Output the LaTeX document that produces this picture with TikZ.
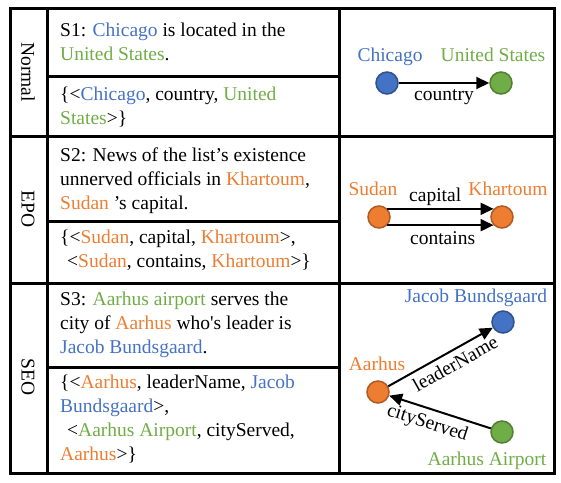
\documentclass[tikz,border=0pt]{standalone}
\usepackage{fontspec}
\setmainfont{Liberation Serif}
\usetikzlibrary{arrows.meta}
\definecolor{cblue}{HTML}{4472C4}
\definecolor{cgreen}{HTML}{70AD47}
\definecolor{corange}{HTML}{ED7D31}
\definecolor{dblue}{HTML}{2F528F}
\definecolor{dgreen}{HTML}{507E32}
\definecolor{dorange}{HTML}{AE5A21}
\newcommand{\cB}[1]{\textcolor{cblue}{#1}}
\newcommand{\cG}[1]{\textcolor{cgreen}{#1}}
\newcommand{\cO}[1]{\textcolor{corange}{#1}}
\begin{document}
\begin{tikzpicture}[x=1pt,y=-1pt,
  every node/.style={font=\fontsize{19.5}{24}\selectfont},
  grid/.style={line width=3pt, line cap=rect},
  celltext/.style={anchor=north west, inner sep=0pt, align=left},
  rowlabel/.style={rotate=-90, inner sep=0pt},
  ent/.style={circle, minimum size=22pt, inner sep=0pt, line width=1.5pt},
  entB/.style={ent, fill=cblue, draw=dblue},
  entG/.style={ent, fill=cgreen, draw=dgreen},
  entO/.style={ent, fill=corange, draw=dorange},
  elabel/.style={anchor=base, inner sep=0pt},
  rel/.style={line width=2pt, -{Triangle[length=13pt,width=12pt]}},
  rellabel/.style={inner sep=3pt}
]
\useasboundingbox (0,0) rectangle (561,482);
% table
\draw[grid] (10,8) rectangle (554,473);
\draw[grid] (47,8) -- (47,473);
\draw[grid] (339,8) -- (339,473);
\draw[grid] (10,136) -- (554,136);
\draw[grid] (10,283) -- (554,283);
\draw[grid] (47,76) -- (339,76);
\draw[grid] (47,221) -- (339,221);
\draw[grid] (47,367) -- (339,367);
% row labels
\node[rowlabel] (lnormal) at (28,72) {Normal};
\node[rowlabel] (lepo) at (28,209) {EPO};
\node[rowlabel] (lseo) at (28,377) {SEO};
% sentences
\node[celltext] (s1) at (60,22.5) {S1: \cB{Chicago} is located in the\\\cG{United States}.};
\node[celltext] (t1) at (60,87) {\{<\cB{Chicago}, country, \cG{United}\\\cG{States}>\}};
\node[celltext] (s2) at (60,147.5) {S2: News of the list’s existence\\unnerved officials in \cO{Khartoum},\\\cO{Sudan} ’s capital.};
\node[celltext] (t2) at (60,230) {\{<\cO{Sudan}, capital, \cO{Khartoum}>,\\\hspace{7pt}<\cO{Sudan}, contains, \cO{Khartoum}>\}};
\node[celltext] (s3) at (60,291.5) {S3: \cG{Aarhus airport} serves the\\city of \cO{Aarhus} who\textquotesingle s leader is\\\cB{Jacob Bundsgaard}.};
\node[celltext] (t3) at (60,375) {\{<\cO{Aarhus}, leaderName, \cB{Jacob}\\\cB{Bundsgaard}>,\\\hspace{7pt}<\cG{Aarhus Airport}, cityServed,\\\cO{Aarhus}>\}};
% graph 1
\node[entB] (chicago) at (387,83) {};
\node[entG] (us) at (501,83) {};
\node[elabel, text=cblue] (chicagol) at (390,61) {Chicago};
\node[elabel, text=cgreen] (usl) at (493,61) {United States};
\draw[rel] (chicago) -- node[rellabel, below=3pt] {country} (us);
% graph 2
\node[entO] (sudan) at (379,217) {};
\node[entO] (khartoum) at (502,217) {};
\node[elabel, text=corange] (sudanl) at (373,195) {Sudan};
\node[elabel, text=corange] (khartouml) at (508,195) {Khartoum};
\draw[rel] (sudan.44) -- node[rellabel, above, pos=0.45, yshift=-1pt] {capital} (khartoum.136);
\draw[rel] (sudan.-44) -- node[rellabel, below=2pt, pos=0.52] {contains} (khartoum.-136);
% graph 3
\node[entB] (jacob) at (503,322) {};
\node[entO] (aarhus) at (378,392) {};
\node[entG] (airport) at (502,432) {};
\node[elabel, text=cblue] (jacobl) at (476,302) {Jacob Bundsgaard};
\node[elabel, text=corange] (aarhusl) at (377,370) {Aarhus};
\node[elabel, text=cgreen] (airportl) at (487,465) {Aarhus Airport};
\draw[rel] (aarhus) -- node[rellabel, sloped, below=2pt, pos=0.58] {leaderName} (jacob);
\draw[rel] (airport) -- node[rellabel, sloped, below=2pt, pos=0.58] {cityServed} (aarhus);
\end{tikzpicture}
\end{document}
